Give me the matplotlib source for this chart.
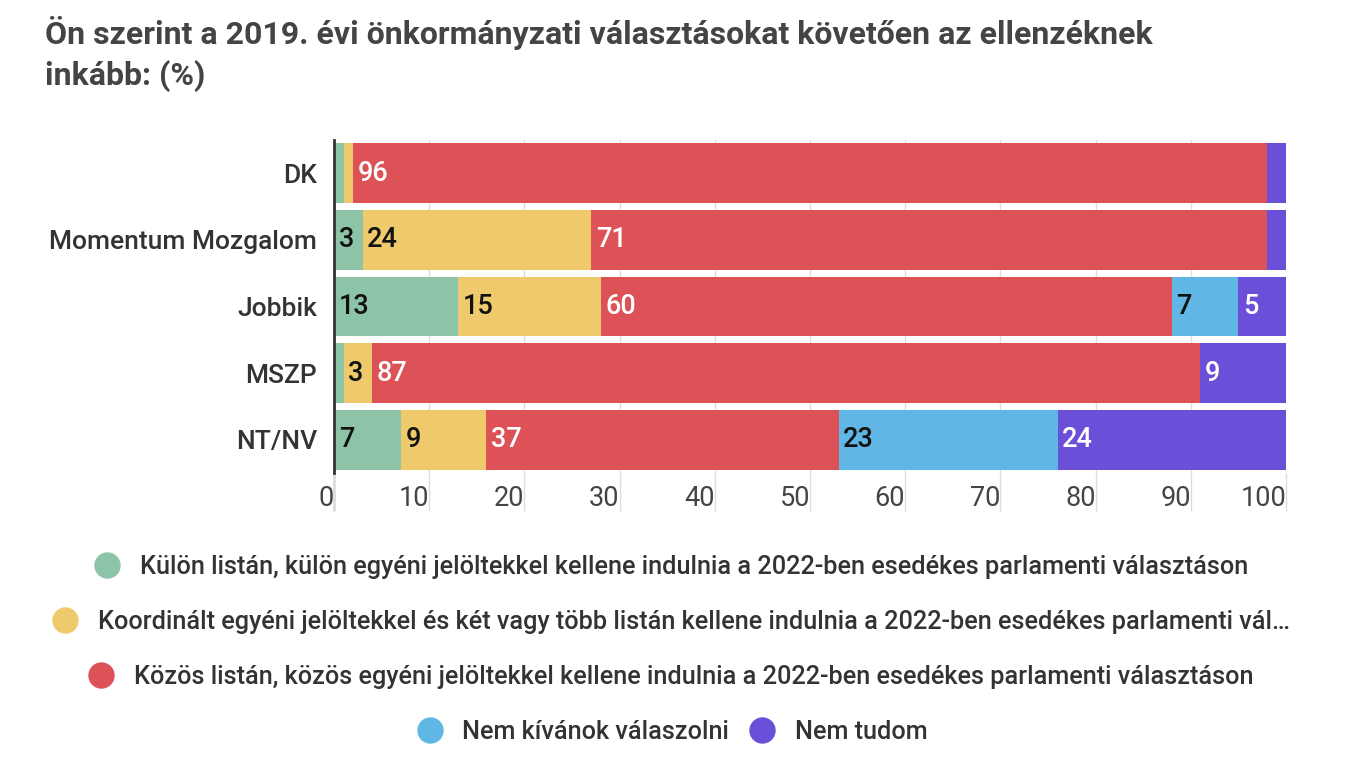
import matplotlib.pyplot as plt
from matplotlib.lines import Line2D

plt.rcParams['font.family'] = ['Roboto', 'DejaVu Sans']

parties = ['DK', 'Momentum Mozgalom', 'Jobbik', 'MSZP', 'NT/NV']
kulon = [1, 3, 13, 1, 7]
koord = [1, 24, 15, 3, 9]
kozos = [96, 71, 60, 87, 37]
nem_valaszol = [0, 0, 7, 0, 23]
nem_tudom = [2, 2, 5, 9, 24]

series = [kulon, koord, kozos, nem_valaszol, nem_tudom]
names = ['Külön listán, külön egyéni jelöltekkel kellene indulnia a 2022-ben esedékes parlamenti választáson',
         'Koordinált egyéni jelöltekkel és két vagy több listán kellene indulnia a 2022-ben esedékes parlamenti vál…',
         'Közös listán, közös egyéni jelöltekkel kellene indulnia a 2022-ben esedékes parlamenti választáson',
         'Nem kívánok válaszolni',
         'Nem tudom']
colors = ['#8dc4a8', '#efca6c', '#dc5257', '#60b6e5', '#6a4fd8']
text_colors = ['#111111', '#111111', 'white', '#111111', 'white']

fig = plt.figure(figsize=(13.47, 7.58), dpi=100)
ax = fig.add_axes([334/1347, 1-473/758, 952/1347, 333/758])

ypos = list(range(len(parties)))
left = [0]*len(parties)
for s, vals in enumerate(series):
    ax.barh(ypos, vals, left=left, height=0.9, color=colors[s], zorder=2)
    for i, v in enumerate(vals):
        if v >= 3:
            ax.text(left[i] + 0.5, ypos[i], str(v), color=text_colors[s],
                    fontsize=19.5, va='center', ha='left', zorder=3, fontweight='medium')
    left = [l + v for l, v in zip(left, vals)]

ax.set_xlim(0, 100)
ax.set_ylim(len(parties)-0.5, -0.5)
ax.set_yticks(ypos)
ax.set_yticklabels(parties, fontsize=19, color='#333333', fontweight='medium')
ax.tick_params(axis='y', length=0, pad=12)
ax.set_xticks(range(0, 101, 10))
ax.set_xticklabels([str(t) for t in range(0, 101, 10)], fontsize=19.5, color='#444444')
plt.setp(ax.get_xticklabels(), ha='right')
ax.tick_params(axis='x', length=27, color='#dddddd', pad=-18, width=1)
ax.xaxis.get_major_ticks()[0].tick1line.set_color('#333333')
ax.xaxis.get_major_ticks()[0].tick1line.set_markeredgewidth(2)
ax.grid(axis='x', color='#dddddd', linewidth=1, zorder=0)
for sp in ['top', 'right', 'bottom']:
    ax.spines[sp].set_visible(False)
ax.spines['left'].set_color('#333333')
ax.spines['left'].set_linewidth(2)
ax.spines['left'].set_zorder(4)

fig.text(45/1347, 1-16/758, 'Ön szerint a 2019. évi önkormányzati választásokat követően az ellenzéknek\ninkább: (%)',
         fontsize=23, fontweight='bold', color='#444444', va='top', ha='left', linespacing=1.4)

legend_y = [567, 622, 677]
for i in range(3):
    h = [Line2D([], [], marker='o', linestyle='', markersize=18, color=colors[i])]
    lg = fig.legend(h, [names[i]], loc='center', bbox_to_anchor=(665/1347, 1-legend_y[i]/758),
                    frameon=False, fontsize=18.2, handletextpad=0.3, borderaxespad=0)
    for t in lg.get_texts():
        t.set_color('#333333')
        t.set_fontweight('medium')
h = [Line2D([], [], marker='o', linestyle='', markersize=18, color=colors[k]) for k in (3, 4)]
lg = fig.legend(h, names[3:], loc='center', bbox_to_anchor=(666/1347, 1-732/758), ncol=2,
                frameon=False, fontsize=18.2, handletextpad=0.3, columnspacing=0.3, borderaxespad=0)
for t in lg.get_texts():
    t.set_color('#333333')
    t.set_fontweight('medium')

fig.savefig('out.png', dpi=100)
